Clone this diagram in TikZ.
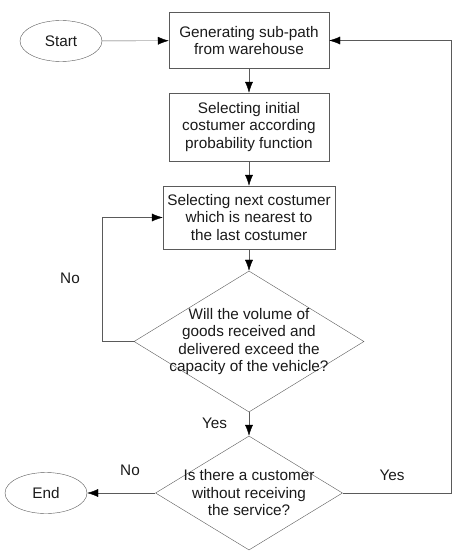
\documentclass[tikz,border=0pt]{standalone}
\usepackage{fontspec}
\setmainfont{Liberation Sans}
\usepackage{tikz}
\usetikzlibrary{shapes.geometric,arrows.meta}

\definecolor{linegray}{HTML}{5A5A5A}
\definecolor{textgray}{HTML}{1A1A1A}

\tikzset{
  terminal/.style={ellipse,draw=linegray,inner sep=0pt,minimum width=82pt,minimum height=41pt,text=textgray},
  process/.style={rectangle,draw=linegray,inner sep=0pt,align=center,text=textgray},
  decision/.style={diamond,draw=linegray,inner sep=0pt},
  dtext/.style={align=center,text=textgray},
  flow/.style={draw=linegray,-{Latex[length=11pt,width=8pt,color=black]}},
  lbl/.style={text=textgray}
}

\begin{document}
\begin{tikzpicture}[x=1pt,y=-1pt,font=\fontsize{15.3}{17.5}\selectfont]
\useasboundingbox (0,0) rectangle (474,551);

% Terminals
\node[terminal] (start) at (61,41) {Start};
\node[terminal] (end) at (46,493) {End};

% Process boxes
\node[process,minimum width=160pt,minimum height=56pt] (subpath) at (249,40.5) {Generating sub-path\\from warehouse};
\node[process,minimum width=160pt,minimum height=68pt] (initial) at (249,127) {Selecting initial\\costumer according\\probability function};
\node[process,minimum width=172pt,minimum height=63pt] (next) at (249,217.5) {Selecting next costumer\\which is nearest to\\the last costumer};

% Decisions
\node[decision,minimum width=230pt,minimum height=141pt] (capacity) at (249,341.5) {};
\node[dtext] at (capacity) {Will the volume of\\goods received and\\delivered exceed the\\capacity of the vehicle?};
\node[decision,minimum width=187pt,minimum height=114pt] (service) at (249,493) {};
\node[dtext] at (service) {Is there a customer\\without receiving\\the service?};

% Connectors
\draw[flow] (start) -- (subpath);
\draw[flow] (subpath) -- (initial);
\draw[flow] (initial) -- (next);
\draw[flow] (next) -- (capacity);
\draw[flow] (capacity.south) -- (service.north);
\draw[flow] (capacity.west) -| (102,217.5) -- (next.west);
\draw[flow] (service.west) -- (end.east);
\draw[flow] (service.east) -- (451,493) |- (subpath.east);

% Labels
\node[lbl] at (70,278) {No};
\node[lbl] at (214.5,423) {Yes};
\node[lbl] at (130,470) {No};
\node[lbl] at (392,475) {Yes};
\end{tikzpicture}
\end{document}
